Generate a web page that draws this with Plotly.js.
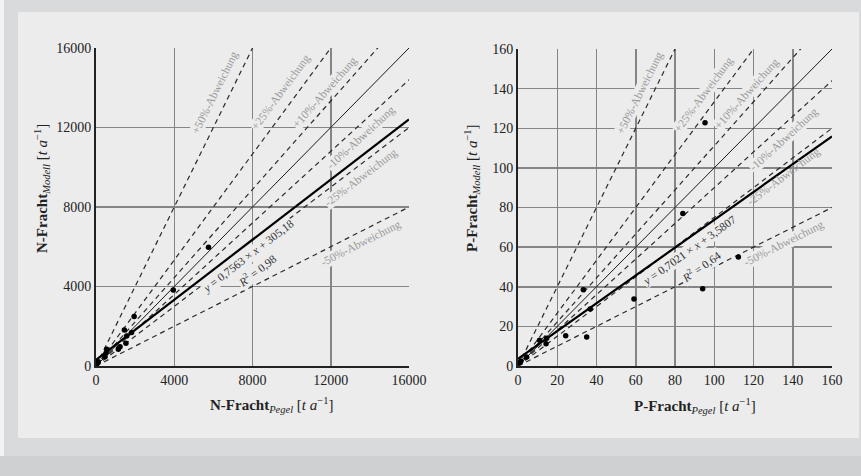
<!DOCTYPE html>
<html>
<head>
<meta charset="utf-8">
<script src="https://cdn.plot.ly/plotly-3.0.1.min.js"></script>
<style>html,body{margin:0;padding:0;background:#d9dadb;}#chart{width:861px;height:476px;}</style>
</head>
<body>
<div id="chart"></div>
<script>
// ---- data ----
const nPegel  = [60, 120, 460, 510, 545, 1140, 1230, 1450, 1530, 1570, 1820, 1950, 3950, 5750, 16200];
const nModell = [130, 220, 470, 640, 840, 840, 970, 1810, 1140, 1510, 1680, 2490, 3820, 5970, 12000];
const pPegel  = [1, 1.5, 4.4, 11, 14.6, 14.3, 24.3, 33.3, 35, 36.8, 59.1, 84, 94.1, 95.3, 112.3];
const pModell = [1.7, 2.5, 4.5, 13, 14, 11.2, 15.3, 38.5, 14.7, 28.8, 33.8, 77, 39, 122.8, 55];
const nFit = [0.7563, 305.18];   // slope, intercept
const pFit = [0.7021, 3.5807];
const nR2 = "0,98";
const pR2 = "0,64";
const devSlopes = [2, 1.3333, 1.1111, 0.9, 0.75, 0.5];
const devLabels = ["+50%-Abweichung", "+25%-Abweichung", "+10%-Abweichung", "-10%-Abweichung", "-25%-Abweichung", "-50%-Abweichung"];
const nTicks = [0, 4000, 8000, 12000, 16000];
const pTicks = [0, 20, 40, 60, 80, 100, 120, 140, 160];
const nMax = 16000, pMax = 160;

// ---- layout geometry ----
const W = 861, H = 476;
const px = v => v / W, py = v => 1 - v / H;
const dom = {
  x1: [px(96), px(409)], y1: [py(366), py(48)],
  x2: [px(518), px(832)], y2: [py(366), py(49)]
};
const SERIF = "'Liberation Serif', 'DejaVu Serif', serif";
const BG = '#ececec';

function angleFor(slope, xd, yd, xr, yr) {
  const xs = (xd[1] - xd[0]) * W / xr, ys = (yd[1] - yd[0]) * H / yr;
  return -Math.atan(slope * ys / xs) * 180 / Math.PI;
}

const traces = [];
function addPanel(xa, ya, maxV, xs, ys, fit) {
  devSlopes.forEach(s => {
    traces.push({x: [0, maxV], y: [0, s * maxV], xaxis: xa, yaxis: ya, mode: 'lines',
      line: {color: '#2a2a2a', width: 1.2, dash: '5px,4px'}, hoverinfo: 'skip', showlegend: false});
  });
  traces.push({x: [0, maxV], y: [0, maxV], xaxis: xa, yaxis: ya, mode: 'lines',
    line: {color: '#1a1a1a', width: 1}, hoverinfo: 'skip', showlegend: false});
  traces.push({x: [0, maxV], y: [fit[1], fit[0] * maxV + fit[1]], xaxis: xa, yaxis: ya, mode: 'lines',
    line: {color: '#000', width: 2.2}, hoverinfo: 'skip', showlegend: false});
  traces.push({x: xs, y: ys, xaxis: xa, yaxis: ya, mode: 'markers', cliponaxis: false,
    marker: {color: '#000', size: 5.5}, showlegend: false});
}
addPanel('x', 'y', nMax, nPegel, nModell, nFit);
addPanel('x2', 'y2', pMax, pPegel, pModell, pFit);

const annotations = [];
const labFont = {family: SERIF, size: 11.5, color: '#9a9a9a'};
const eqFont = {family: SERIF, size: 11.5, color: '#333'};
const nLabPos = [[6100, 13750], [9450, 13750], [11700, 13750], [13550, 11500], [13550, 9500], [13530, 6170]];
const pLabPos = [[62, 137.6], [94.8, 136.8], [116.8, 137.3], [135.5, 114.4], [135.5, 95.5], [135.5, 61.9]];
// labels whose box would hide the regression line get no background
const pLabBg = [BG, BG, BG, BG, 'rgba(0,0,0,0)', BG];
devLabels.forEach((t, i) => {
  annotations.push({xref: 'x', yref: 'y', x: nLabPos[i][0], y: nLabPos[i][1], text: t, showarrow: false,
    xanchor: 'center', yanchor: 'middle',
    textangle: angleFor(devSlopes[i], dom.x1, dom.y1, nMax, nMax), font: labFont, bgcolor: BG, borderpad: 0});
  annotations.push({xref: 'x2', yref: 'y2', x: pLabPos[i][0], y: pLabPos[i][1], text: t, showarrow: false,
    xanchor: 'center', yanchor: 'middle',
    textangle: angleFor(devSlopes[i], dom.x2, dom.y2, pMax, pMax), font: labFont, bgcolor: pLabBg[i], borderpad: 0});
});
const fmt = v => String(v).replace('.', ',');
function eqAnn(xa, ya, x, y, text, slope, xd, yd, maxV) {
  annotations.push({xref: xa, yref: ya, x: x, y: y, showarrow: false, text: text,
    xanchor: 'center', yanchor: 'middle',
    textangle: angleFor(slope, xd, yd, maxV, maxV), font: eqFont, bgcolor: BG, borderpad: 0});
}
eqAnn('x', 'y', 7785, 5500, '<i>y</i> = ' + fmt(nFit[0]) + ' × <i>x</i> + ' + fmt(nFit[1]), nFit[0], dom.x1, dom.y1, nMax);
eqAnn('x', 'y', 8245, 4795, '<i>R</i><sup>2</sup> = ' + nR2, nFit[0], dom.x1, dom.y1, nMax);
eqAnn('x2', 'y2', 87.6, 58.2, '<i>y</i> = ' + fmt(pFit[0]) + ' × <i>x</i> + ' + fmt(pFit[1]), pFit[0], dom.x2, dom.y2, pMax);
eqAnn('x2', 'y2', 93.6, 50.1, '<i>R</i><sup>2</sup> = ' + pR2, pFit[0], dom.x2, dom.y2, pMax);

// axis titles
const titleFont = {family: SERIF, size: 15, color: '#222'};
const unit = ' [<i>t a</i><sup>−1</sup>]';
function titleAnn(x, y, text, angle) {
  annotations.push({xref: 'paper', yref: 'paper', x: px(x), y: py(y), showarrow: false, font: titleFont,
    xanchor: 'center', yanchor: 'middle', textangle: angle, text: text});
}
titleAnn(271, 405, '<b>N-Fracht</b><sub><i>Pegel</i></sub>' + unit, 0);
titleAnn(42, 189, '<b>N-Fracht</b><sub><i>Modell</i></sub>' + unit, -90);
titleAnn(695, 406, '<b>P-Fracht</b><sub><i>Pegel</i></sub>' + unit, 0);
titleAnn(472, 188, '<b>P-Fracht</b><sub><i>Modell</i></sub>' + unit, -90);

const tickFont = {family: SERIF, size: 14, color: '#222'};
function axis(domain, ticks, maxV, anchor) {
  return {domain: domain, range: [0, maxV], tickvals: ticks, ticktext: ticks.map(String), anchor: anchor,
    showgrid: true, gridcolor: '#858585', gridwidth: 1.5, zeroline: false,
    showline: true, linecolor: '#222', linewidth: 2, ticks: '',
    tickfont: tickFont, fixedrange: true, automargin: false};
}

const layout = {
  width: W, height: H, margin: {l: 0, r: 0, t: 0, b: 0},
  paper_bgcolor: '#d9dadb', plot_bgcolor: BG,
  font: {family: SERIF},
  showlegend: false, hovermode: false,
  xaxis: axis(dom.x1, nTicks, nMax, 'y'),
  yaxis: axis(dom.y1, nTicks, nMax, 'x'),
  xaxis2: axis(dom.x2, pTicks, pMax, 'y2'),
  yaxis2: axis(dom.y2, pTicks, pMax, 'x2'),
  shapes: [
    {type: 'rect', xref: 'paper', yref: 'paper', x0: px(18), x1: px(859), y0: py(438), y1: py(12),
      fillcolor: BG, line: {width: 0}, layer: 'below'},
    {type: 'rect', xref: 'paper', yref: 'paper', x0: 0, x1: 1, y0: 0, y1: py(456),
      fillcolor: '#cfd0d1', line: {width: 0}, layer: 'below'},
    {type: 'rect', xref: 'paper', yref: 'paper', x0: 0, x1: px(4), y0: py(456), y1: 1,
      fillcolor: '#f2f2f2', line: {width: 0}, layer: 'below'}
  ],
  annotations: annotations
};

Plotly.newPlot('chart', traces, layout, {displayModeBar: false, staticPlot: true});
</script>
</body>
</html>
